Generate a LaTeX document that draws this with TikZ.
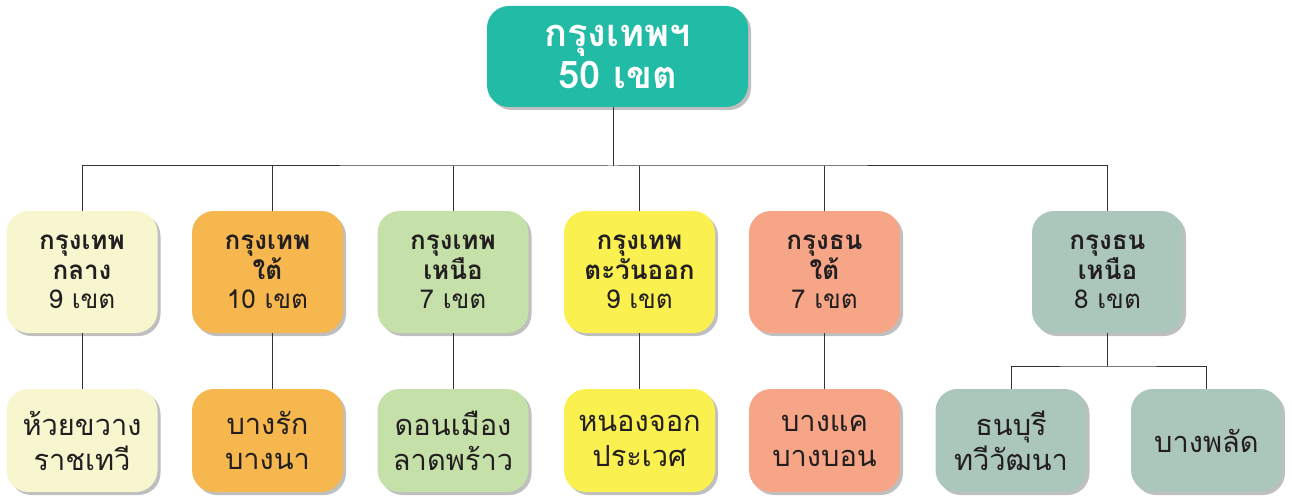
\documentclass[tikz,border=0pt]{standalone}
\usepackage{fontspec}
\newfontfamily\thai[Script=Thai]{Loma}
\usetikzlibrary{shadows}
\definecolor{topteal}{HTML}{22BBA5}
\definecolor{cream}{HTML}{F7F6CF}
\definecolor{orng}{HTML}{F6B74E}
\definecolor{lgreen}{HTML}{C5E0A8}
\definecolor{yell}{HTML}{FAF050}
\definecolor{salmon}{HTML}{F6A587}
\definecolor{sage}{HTML}{ABC6BA}
\definecolor{ink}{HTML}{231F20}
\definecolor{wire}{HTML}{333333}
\tikzset{
  card/.style={rounded corners=22pt, inner sep=0pt, align=center, text=ink,
    drop shadow={shadow xshift=3pt, shadow yshift=-3pt, opacity=0.25, fill=black}},
  head/.style={card, minimum width=261pt, minimum height=101pt, text=white,
    font=\thai\bfseries\fontsize{38}{42}\selectfont},
  zone/.style={card, minimum width=151pt, minimum height=122pt,
    font=\thai\fontsize{26}{29.5}\selectfont},
  district/.style={card, minimum width=151pt, minimum height=103pt,
    font=\thai\fontsize{29}{35}\selectfont},
  conn/.style={draw=wire, line width=1pt}
}
\begin{document}
\begin{tikzpicture}[x=1pt,y=-1pt]
\useasboundingbox (0,0) rectangle (1292,497);

% head office
\node[head, fill=topteal] (top) at (617.5,56.5) {กรุงเทพฯ\\50 เขต};

% zone level
\node[zone, fill=cream]  (a) at (82,272)   {\textbf{กรุงเทพ}\\\textbf{กลาง}\\9 เขต};
\node[zone, fill=orng]   (b) at (267.5,272) {\textbf{กรุงเทพ}\\\textbf{ใต้}\\10 เขต};
\node[zone, fill=lgreen] (c) at (453,272)  {\textbf{กรุงเทพ}\\\textbf{เหนือ}\\7 เขต};
\node[zone, fill=yell]   (d) at (639.5,272) {\textbf{กรุงเทพ}\\\textbf{ตะวันออก}\\9 เขต};
\node[zone, fill=salmon] (e) at (824.5,272) {\textbf{กรุงธน}\\\textbf{ใต้}\\7 เขต};
\node[zone, fill=sage]   (f) at (1107.5,272) {\textbf{กรุงธน}\\\textbf{เหนือ}\\8 เขต};

% district level
\node[district, fill=cream]  (a3) at (82,440.5)   {ห้วยขวาง\\ราชเทวี};
\node[district, fill=orng]   (b3) at (267.5,440.5) {บางรัก\\บางนา};
\node[district, fill=lgreen] (c3) at (453,440.5)  {ดอนเมือง\\ลาดพร้าว};
\node[district, fill=yell]   (d3) at (639.5,440.5) {หนองจอก\\ประเวศ};
\node[district, fill=salmon] (e3) at (824.5,440.5) {บางแค\\บางบอน};
\node[district, fill=sage]   (g1) at (1011,440.5) {ธนบุรี\\ทวีวัฒนา};
\node[district, fill=sage]   (g2) at (1206.5,440.5) {บางพลัด};

% connectors
\coordinate (bus) at (613,166);
\coordinate (fbus) at (1107.5,366);
\draw[conn] ([xshift=-4.5pt]top.south) -- (bus);
\draw[conn] (a.north) |- (bus) -| (f.north);
\foreach \n in {c,d,e} \draw[conn] (\n.north) -- (\n.north |- bus);
\foreach \n in {a,c,d,e} \draw[conn] (\n.south) -- (\n3.north);
\draw[conn] ([xshift=4.5pt]b.north) -- ([xshift=4.5pt]b.north |- bus);
\draw[conn] ([xshift=4.5pt]b.south) -- ([xshift=4.5pt]b3.north);
\draw[conn] (f.south) -- (fbus);
\draw[conn] (g1.north) |- (fbus) -| (g2.north);
\end{tikzpicture}
\end{document}
